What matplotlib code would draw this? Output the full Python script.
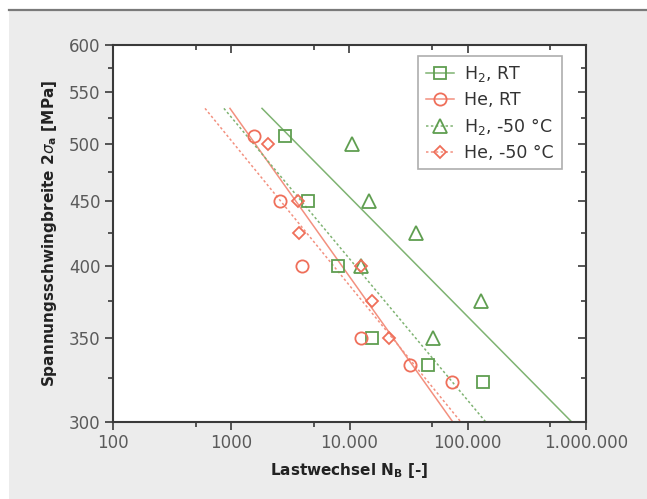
import matplotlib
matplotlib.use('Agg')
import matplotlib.pyplot as plt
from matplotlib.lines import Line2D
from matplotlib.patches import Rectangle

# ---------------- data ----------------
h2_rt_n = [2850, 4450, 8000, 15500, 46000, 134000]
h2_rt_s = [508, 450, 400, 350, 333, 323]
he_rt_n = [1560, 2580, 3960, 12500, 32400, 73500]
he_rt_s = [508, 450, 400, 350, 333, 323]
h2_m50_n = [10500, 14600, 36400, 12500, 50700, 129000]
h2_m50_s = [500, 450, 425, 400, 350, 375]
he_m50_n = [2040, 3660, 3730, 12500, 15500, 21500]
he_m50_s = [500, 450, 425, 400, 375, 350]

# fitted lines (end points)
fit_s = [534, 300]
h2_rt_fit_n = [1820, 758000]
he_rt_fit_n = [975, 74800]
h2_m50_fit_n = [867, 142000]
he_m50_fit_n = [600, 87500]

x_major = [100, 1000, 10000, 100000, 1000000]
x_labels = ['100', '1000', '10.000', '100.000', '1.000.000']
x_minor = [500, 5000, 50000, 500000]
y_major = [300, 350, 400, 450, 500, 550, 600]
y_minor = [325, 375, 425, 475, 525, 575]

labels = [r'H$_2$, RT', 'He, RT', r'H$_2$, -50 °C', 'He, -50 °C']

# ---------------- style ----------------
GREEN = '#5f9e50'
RED = '#ef6f5a'
GREEN_L = '#7fb372'
RED_L = '#f3907f'
DOT = (0, (1.6, 1.6))

W, H = 647, 499
fig = plt.figure(figsize=(W / 100, H / 100), dpi=100, facecolor='white')
fig.patches.append(Rectangle((9 / W, 0), 1 - 9 / W, 1 - 11 / H, transform=fig.transFigure,
                             facecolor='#ececec', edgecolor='none', zorder=-10))
fig.add_artist(Line2D([9 / W, 1], [1 - 10 / H, 1 - 10 / H], color='#7a7a7a', lw=1.6, zorder=-9))

ax = fig.add_axes([113 / W, 1 - 422 / H, (586 - 113) / W, (422 - 45) / H])
ax.set_facecolor('white')
ax.set_xscale('log')
ax.set_yscale('log')
ax.set_xlim(100, 1000000)
ax.set_ylim(300, 600)

# fit lines
ax.plot(h2_rt_fit_n, fit_s, color=GREEN_L, lw=1.1, ls='-', zorder=2)
ax.plot(he_rt_fit_n, fit_s, color=RED_L, lw=1.1, ls='-', zorder=2)
ax.plot(h2_m50_fit_n, fit_s, color=GREEN_L, lw=1.1, ls=DOT, zorder=2)
ax.plot(he_m50_fit_n, fit_s, color=RED_L, lw=1.1, ls=DOT, zorder=2)

mk = dict(ls='none', mfc='none', mew=1.3, zorder=3)
ax.plot(h2_rt_n, h2_rt_s, marker='s', ms=8, mec=GREEN, **mk)
ax.plot(he_rt_n, he_rt_s, marker='o', ms=8.8, mec=RED, **mk)
ax.plot(h2_m50_n, h2_m50_s, marker='^', ms=10, mec=GREEN, **mk)
ax.plot(he_m50_n, he_m50_s, marker='D', ms=6.6, mec=RED, **mk)

# axes / ticks
ax.set_xticks(x_major)
ax.set_xticklabels(x_labels)
ax.set_xticks(x_minor, minor=True)
ax.set_xticklabels([], minor=True)
ax.set_yticks(y_major)
ax.set_yticklabels([str(v) for v in y_major])
ax.set_yticks(y_minor, minor=True)
ax.set_yticklabels([], minor=True)

SP = '#3a3a3a'
for s in ax.spines.values():
    s.set_color(SP)
    s.set_linewidth(1.5)
ax.tick_params(which='major', direction='out', length=6, width=1.2, color=SP,
               labelsize=12, labelcolor='#5a5a5a', pad=3)
ax.tick_params(which='minor', direction='out', length=3.5, width=1.2, color=SP)

# inward ticks on top and right
axt = ax.twiny()
axt.set_xscale('log')
axt.set_xlim(ax.get_xlim())
axt.set_xticks(x_major)
axt.set_xticks(x_minor, minor=True)
axt.set_xticklabels([])
axt.set_xticklabels([], minor=True)
axt.tick_params(which='major', direction='in', length=6, width=1.2, color=SP)
axt.tick_params(which='minor', direction='in', length=3.5, width=1.2, color=SP)
axt.patch.set_visible(False)
for s in axt.spines.values():
    s.set_visible(False)
axr = ax.twinx()
axr.set_yscale('log')
axr.set_ylim(ax.get_ylim())
axr.set_yticks(y_major)
axr.set_yticks(y_minor, minor=True)
axr.set_yticklabels([])
axr.set_yticklabels([], minor=True)
axr.tick_params(which='major', direction='in', length=6, width=1.2, color=SP)
axr.tick_params(which='minor', direction='in', length=3.5, width=1.2, color=SP)
axr.patch.set_visible(False)
for s in axr.spines.values():
    s.set_visible(False)

ax.set_xlabel(r'Lastwechsel N$_\mathregular{B}$ [-]', fontsize=11, fontweight='bold',
              color='#222222', labelpad=6)
ax.set_ylabel(r'Spannungsschwingbreite 2$\sigma_\mathregular{a}$ [MPa]', fontsize=11,
              fontweight='bold', color='#222222', labelpad=7)

handles = [
    Line2D([], [], color=GREEN_L, ls='-', lw=1.1, marker='s', ms=8, mfc='none', mec=GREEN, mew=1.3),
    Line2D([], [], color=RED_L, ls='-', lw=1.1, marker='o', ms=8.8, mfc='none', mec=RED, mew=1.3),
    Line2D([], [], color=GREEN_L, ls=DOT, lw=1.1, marker='^', ms=10, mfc='none', mec=GREEN, mew=1.3),
    Line2D([], [], color=RED_L, ls=DOT, lw=1.1, marker='D', ms=6.6, mfc='none', mec=RED, mew=1.3),
]
leg = axr.legend(handles, labels, loc='upper right', bbox_to_anchor=(0.949, 0.971),
                 borderaxespad=0, fancybox=False, frameon=True, fontsize=12.5,
                 handlelength=1.6, handletextpad=0.6, labelspacing=0.4,
                 borderpad=0.45, labelcolor='#333333')
leg.get_frame().set_edgecolor('#9a9a9a')
leg.get_frame().set_linewidth(1.2)

fig.savefig('out.png', dpi=100, facecolor=fig.get_facecolor())
